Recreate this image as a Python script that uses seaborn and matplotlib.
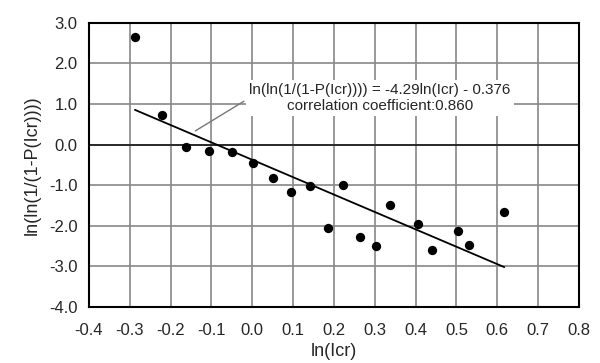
import numpy as np
import pandas as pd
import matplotlib
matplotlib.use("Agg")
import matplotlib.pyplot as plt
import seaborn as sns

# valores
ln_icr = [-0.287, -0.222, -0.161, -0.105, -0.049, 0.001, 0.050, 0.096, 0.141,
          0.185, 0.223, 0.264, 0.302, 0.337, 0.407, 0.439, 0.503, 0.531, 0.617]
ln_ln_p = [2.64, 0.73, -0.06, -0.15, -0.19, -0.46, -0.83, -1.18, -1.03,
           -2.06, -1.01, -2.28, -2.51, -1.48, -1.96, -2.61, -2.14, -2.47, -1.66]
slope = -4.29
intercept = -0.376
x_ticks = [-0.4, -0.3, -0.2, -0.1, 0.0, 0.1, 0.2, 0.3, 0.4, 0.5, 0.6, 0.7, 0.8]
y_ticks = [-4.0, -3.0, -2.0, -1.0, 0.0, 1.0, 2.0, 3.0]

df = pd.DataFrame({"x": ln_icr, "y": ln_ln_p})
fit_x = [min(ln_icr), max(ln_icr)]
fit = pd.DataFrame({"x": fit_x, "y": [slope * v + intercept for v in fit_x]})

sns.set_style("white")
plt.rcParams["font.family"] = ["Liberation Sans", "DejaVu Sans"]

fig, ax = plt.subplots(figsize=(6, 3.63), dpi=100)
fig.subplots_adjust(left=0.148, right=0.965, top=0.937, bottom=0.155)

ax.set_xlim(-0.4, 0.8)
ax.set_ylim(-4.0, 3.0)
ax.set_xticks(x_ticks)
ax.set_yticks(y_ticks)
ax.set_xticklabels([f"{v:.1f}" for v in x_ticks], fontsize=12)
ax.set_yticklabels([f"{v:.1f}" for v in y_ticks], fontsize=12)
ax.grid(True, color="#888888", linewidth=1.2)
ax.set_axisbelow(True)
ax.axhline(0, color="#222222", linewidth=1.3, zorder=1)
for s in ax.spines.values():
    s.set_color("black")
    s.set_linewidth(1.5)
ax.tick_params(axis="x", length=0, pad=12)
ax.tick_params(axis="y", length=0, pad=8)

sns.lineplot(data=fit, x="x", y="y", color="black", linewidth=1.3, ax=ax, zorder=3)
sns.scatterplot(data=df, x="x", y="y", color="black", s=45, edgecolor="black",
                linewidth=0, ax=ax, zorder=4)

ax.annotate("ln(ln(1/(1-P(Icr)))) = -4.29ln(Icr) - 0.376\ncorrelation coefficient:0.860",
            xy=(-0.145, 0.30), xytext=(0.313, 1.15), ha="center", va="center",
            fontsize=11, linespacing=1.15,
            bbox=dict(boxstyle="square,pad=0.2", fc="white", ec="none"),
            arrowprops=dict(arrowstyle="-", color="#777777", lw=1.0,
                            relpos=(0.0, 0.5)), zorder=5)

ax.set_xlabel("ln(Icr)", fontsize=13, labelpad=3)
ax.set_ylabel("ln(ln(1/(1-P(Icr))))", fontsize=13, labelpad=6)

plt.savefig("out.png", dpi=100)
plt.close()
